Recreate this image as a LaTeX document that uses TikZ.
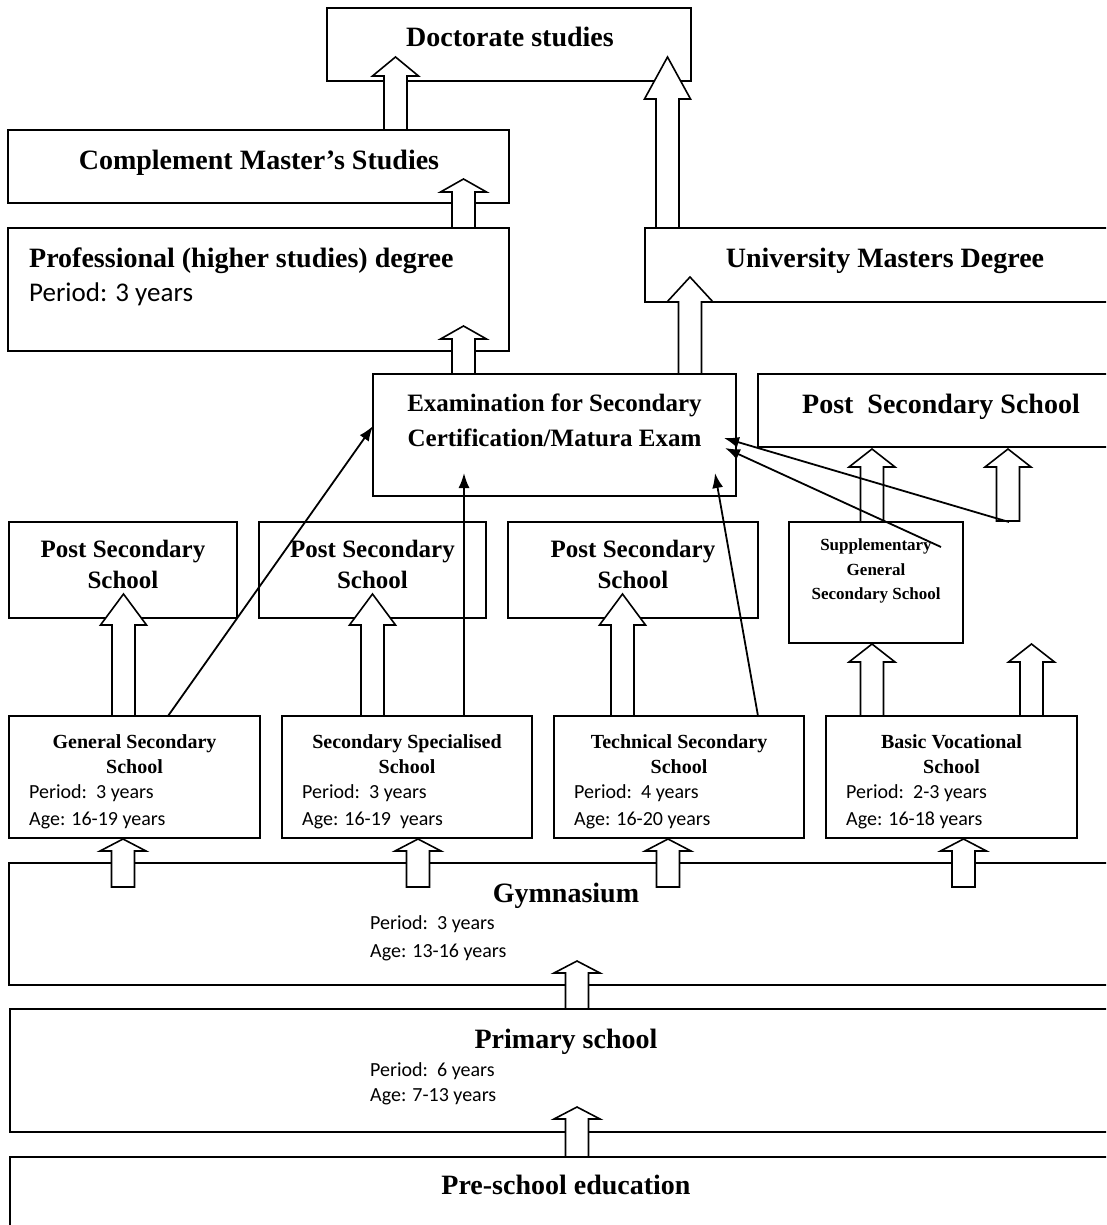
\documentclass[tikz,border=0pt]{standalone}
\usepackage{fontspec}
\setmainfont{Liberation Serif}
\newfontfamily\calfont{Carlito}
\usetikzlibrary{fit,arrows.meta}
\newcommand{\blockarr}[4]{%
  \filldraw[barrow] (#1-11.5,#2) -- (#1-11.5,#3) -- (#1-23,#3) -- (#1,#4) -- (#1+23,#3) -- (#1+11.5,#3) -- (#1+11.5,#2) -- cycle;}
\begin{document}
\begin{tikzpicture}[x=1pt,y=-1pt,
  box/.style={draw, line width=1.6pt, inner sep=0pt, rectangle},
  barrow/.style={draw, fill=white, line width=1.6pt, line join=miter},
  thin/.style={draw, line width=1.8pt, -{Latex[length=15pt,width=11pt]}},
  hd/.style={font=\bfseries\fontsize{#1}{#1}\selectfont, anchor=base, inner sep=0pt},
  hdl/.style={font=\bfseries\fontsize{#1}{#1}\selectfont, anchor=base west, inner sep=0pt},
  bd/.style={font=\calfont\fontsize{#1}{#1}\selectfont, anchor=base west, inner sep=0pt}]
\useasboundingbox (0,0) rectangle (1106,1225);
\clip (0,0) rectangle (1106,1225);
\fill[white] (0,0) rectangle (1106,1225);

% boxes
\node[box, fit={(327,8) (691,81)}] (doc) {};
\node[box, fit={(8,130) (509,203)}] (comp) {};
\node[box, fit={(8,228) (509,351)}] (prof) {};
\node[box, fit={(645,228) (1120,302)}] (univ) {};
\node[box, fit={(373,374) (736,496)}] (exam) {};
\node[box, fit={(758,374) (1120,447)}] (psr) {};
\node[box, fit={(9,522) (237,618)}] (psa) {};
\node[box, fit={(259,522) (486,618)}] (psb) {};
\node[box, fit={(508,522) (758,618)}] (psc) {};
\node[box, fit={(789,522) (963,643)}] (supp) {};
\node[box, fit={(9,716) (260,838)}] (gs) {};
\node[box, fit={(282,716) (532,838)}] (ss) {};
\node[box, fit={(554,716) (804,838)}] (tech) {};
\node[box, fit={(826,716) (1077,838)}] (bv) {};
\node[box, fit={(9,863) (1120,985)}] (gym) {};
\node[box, fit={(10,1009) (1120,1132)}] (prim) {};
\node[box, fit={(10,1157) (1120,1250)}] (pre) {};

% block arrows
\blockarr{395.5}{130}{76}{57}
\blockarr{463.5}{228}{192}{179}
\blockarr{463.5}{374}{339}{326}
\blockarr{667.5}{228}{99}{57}
\blockarr{690}{374}{302}{277}
\blockarr{123.5}{716}{625}{594}
\blockarr{372.5}{716}{625}{594}
\blockarr{622.5}{716}{625}{594}
\blockarr{872}{716}{662}{644}
\blockarr{1031.5}{716}{662}{644}
\blockarr{872}{522}{467}{449}
\blockarr{1008}{521}{467}{449}
\blockarr{123}{887}{851}{839}
\blockarr{418}{887}{851}{839}
\blockarr{668}{887}{851}{839}
\blockarr{963.5}{887}{851}{839}
\blockarr{577}{1009}{973}{961}
\blockarr{577}{1157}{1119}{1107}

% connector end points
\coordinate (a0) at (168,716);
\coordinate (a1) at (373,426);
\coordinate (b0) at (464,716);
\coordinate (b1) at (464,473);
\coordinate (c0) at (758,716);
\coordinate (c1) at (715,473);
\coordinate (d0) at (1009,522);
\coordinate (d1) at (724,438);
\coordinate (e0) at (941,547);
\coordinate (e1) at (725,448);
\draw[thin] (a0) -- (a1);
\draw[thin] (b0) -- (b1);
\draw[thin] (c0) -- (c1);
\draw[thin] (d0) -- (d1);
\draw[thin] (e0) -- (e1);

% texts
\node[hd=28] (tdoc) at (510,47) {Doctorate studies};
\node[hd=28] (tcomp) at (259,170) {Complement Master’s Studies};
\node[hdl=28] (tprof) at (29,267) {Professional (higher studies) degree};
\node[bd=27] (tprofp) at (29,301) {Period: 3 years};
\node[hd=28] (tuniv) at (885,267) {University Masters Degree};
\node[hd=25] (texa) at (554.5,411) {Examination for Secondary};
\node[hd=25] (texb) at (554.5,446) {Certification/Matura Exam};
\node[hd=28] (tpsr) at (941,413) {Post~~Secondary School};

\node[hd=25] (tpsa1) at (123,557) {Post Secondary};
\node[hd=25] (tpsa2) at (123,588) {School};
\node[hd=25] (tpsb1) at (372.5,557) {Post Secondary};
\node[hd=25] (tpsb2) at (372.5,588) {School};
\node[hd=25] (tpsc1) at (633,557) {Post Secondary};
\node[hd=25] (tpsc2) at (633,588) {School};
\node[hd=17] (tsupa) at (876,550) {Supplementary};
\node[hd=17] (tsupb) at (876,575) {General};
\node[hd=17] (tsupc) at (876,599) {Secondary School};

\node[hd=20] (tgs1) at (134.5,748) {General Secondary};
\node[hd=20] (tgs2) at (134.5,773) {School};
\node[bd=20] (tgs3) at (29,798) {Period:~~3 years};
\node[bd=20] (tgs4) at (29,825) {Age: 16-19 years};

\node[hd=20] (tss1) at (407,748) {Secondary Specialised};
\node[hd=20] (tss2) at (407,773) {School};
\node[bd=20] (tss3) at (302,798) {Period:~~3 years};
\node[bd=20] (tss4) at (302,825) {Age: 16-19~~years};

\node[hd=20] (ttc1) at (679,748) {Technical Secondary};
\node[hd=20] (ttc2) at (679,773) {School};
\node[bd=20] (ttc3) at (574,798) {Period:~~4 years};
\node[bd=20] (ttc4) at (574,825) {Age: 16-20 years};

\node[hd=20] (tbv1) at (951.5,748) {Basic Vocational};
\node[hd=20] (tbv2) at (951.5,773) {School};
\node[bd=20] (tbv3) at (846,798) {Period:~~2-3 years};
\node[bd=20] (tbv4) at (846,825) {Age: 16-18 years};

\node[hd=28] (tgym) at (566,902) {Gymnasium};
\node[bd=20] (tgym2) at (370,929) {Period:~~3 years};
\node[bd=20] (tgym3) at (370,957) {Age: 13-16 years};

\node[hd=28] (tprim) at (566,1048) {Primary school};
\node[bd=20] (tprim2) at (370,1076) {Period:~~6 years};
\node[bd=20] (tprim3) at (370,1101) {Age: 7-13 years};

\node[hd=28] (tpre) at (566,1194) {Pre-school education};
\end{tikzpicture}
\end{document}
